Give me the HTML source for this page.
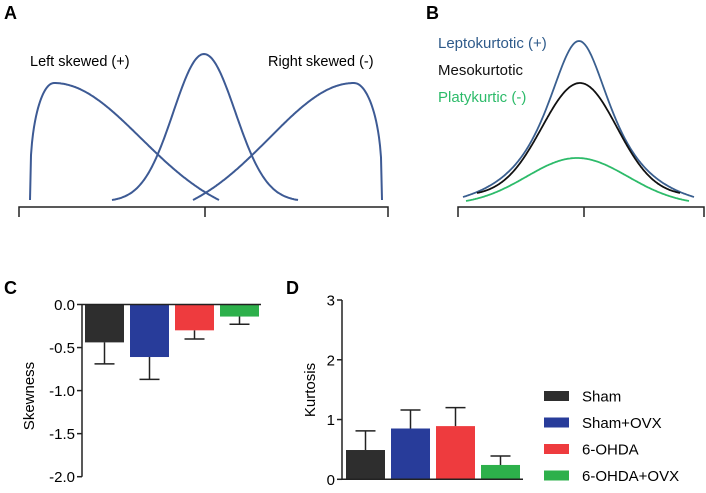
<!DOCTYPE html>
<html><head><meta charset="utf-8">
<style>
html,body{margin:0;padding:0;background:#fff;}
svg{display:block;font-family:"Liberation Sans",Arial,sans-serif;}
</style></head>
<body>
<svg id="fig" width="706" height="493" viewBox="0 0 706 493">
<g id="pa">
<text x="4" y="19" font-size="18" font-weight="bold">A</text>
<text x="30" y="66" font-size="14.5">Left skewed (+)</text>
<text x="268" y="66" font-size="14.5">Right skewed (-)</text>
<path d="M19,217 V207 H388 V217 M205,207 V217" fill="none" stroke="#222" stroke-width="1.5"/>
</g>
<g id="pb">
<text x="426" y="19" font-size="18" font-weight="bold">B</text>
<text x="438" y="48" font-size="15" fill="#2e5a8a">Leptokurtotic (+)</text>
<text x="438" y="75" font-size="15" fill="#111">Mesokurtotic</text>
<text x="438" y="102" font-size="15" fill="#2dbb6a">Platykurtic (-)</text>
<path d="M458,217 V207 H704 V217 M584,207 V217" fill="none" stroke="#222" stroke-width="1.5"/>
</g>
<g id="pc">
<text x="4" y="294" font-size="18" font-weight="bold">C</text>
<text transform="translate(34,396) rotate(-90)" text-anchor="middle" font-size="15">Skewness</text>
</g>
<g id="pd">
<text x="286" y="294" font-size="18" font-weight="bold">D</text>
<text transform="translate(315,390) rotate(-90)" text-anchor="middle" font-size="15">Kurtosis</text>
</g>
<g id="legend"></g>
</svg>
<script>
const groups = ["Sham","Sham+OVX","6-OHDA","6-OHDA+OVX"];
const colors = ["#2e2e2e","#283c9a","#ee3b3e","#2db04b"];
const skewMean = [-0.44,-0.61,-0.30,-0.14];
const skewErr = [0.25,0.26,0.10,0.09];
const kurtMean = [0.49,0.85,0.89,0.24];
const kurtErr = [0.32,0.31,0.31,0.15];
const skewTicks = [0.0,-0.5,-1.0,-1.5,-2.0];
const skewTickLabels = ["0.0","-0.5","-1.0","-1.5","-2.0"];
const kurtTicks = [0,1,2,3];
const kurtTickLabels = ["0","1","2","3"];
// illustrative curves: [start x, peak x, end x, end y, peak y]
const skewCurves = [[30,54,219,200,83],[112,204,298,200,54],[193,354,382,200,83]];
const kurtCurves = [[463,579,694,197,41],[477,580,680,193,83],[466,577,689,201,158]];
const kurtColors = ["#3a5f8f","#111","#2dbb6a"];

const NS="http://www.w3.org/2000/svg";
function mk(tag,attrs,parent){const e=document.createElementNS(NS,tag);for(const k in attrs)e.setAttribute(k,attrs[k]);parent.appendChild(e);return e;}

function barPanel(g,means,errs,ticks,labels,ax,y0px,y1px,v0,v1,barX,barW,axEnd,name){
  const sy=v=>y0px+(v-v0)*(y1px-y0px)/(v1-v0);
  const axis=mk('path',{d:`M${ax},${sy(Math.max(...ticks))} V${sy(Math.min(...ticks))}`,stroke:'#222','stroke-width':1.5,fill:'none'},g);
  
  
  ticks.forEach((t,i)=>{
    const tk=mk('line',{x1:ax-5,x2:ax,y1:sy(t),y2:sy(t),stroke:'#222','stroke-width':1.5},g);
    
    
    const tl=mk('text',{x:ax-7,y:sy(t)+5.5,'text-anchor':'end','font-size':15},g);
    tl.textContent=labels[i];
    
    
  });
  means.forEach((m,i)=>{
    const x=barX(i),zero=sy(0),ym=sy(m),ye=sy(m+Math.sign(m)*errs[i]);
    const b=mk('rect',{x:x,y:Math.min(zero,ym),width:barW,height:Math.abs(ym-zero),fill:colors[i]},g);
    
    
    const cx=x+barW/2;
    const e=mk('path',{d:`M${cx},${ym} V${ye} M${cx-10},${ye} H${cx+10}`,stroke:'#222','stroke-width':1.5,fill:'none'},g);
    
    
  });
  const base=mk('line',{x1:ax,x2:axEnd,y1:sy(0),y2:sy(0),stroke:'#222','stroke-width':1.5},g);
  
  
}
barPanel(document.getElementById('pc'),skewMean,skewErr,skewTicks,skewTickLabels,82,304.5,476.7,0,-2,i=>85+i*45,39,261,'skewness');
barPanel(document.getElementById('pd'),kurtMean,kurtErr,kurtTicks,kurtTickLabels,342,479.3,300,0,3,i=>346+i*45,39,523,'kurtosis');

const lg=document.getElementById('legend');
groups.forEach((gname,i)=>{
  const y=396+i*26.5;
  const r=mk('rect',{x:544,y:y-5,width:25,height:10,fill:colors[i]},lg);
  
  
  const t=mk('text',{x:582,y:y+5.5,'font-size':15},lg);
  t.textContent=gname;
  
  
});

function curvePath(c,fl,fr){
  const [xs,xp,xe,ye,yp]=c;let d='';
  for(let x=xs;x<=xe;x+=1){
    let f;
    if(x<=xp){f=fl((x-xs)/(xp-xs||1));}else{f=fr((x-xp)/(xe-xp));}
    const y=ye-(ye-yp)*f;
    d+=(d?'L':'M')+x.toFixed(1)+','+y.toFixed(1);
  }
  return d;
}
const pa=document.getElementById('pa');
const riseSteep=t=>Math.pow(Math.sin(t*Math.PI/2),0.35);
const fallLong=t=>{const v=Math.exp(-Math.pow(t*1.9,2)/2);const e=Math.exp(-1.9*1.9/2);return (v-e)/(1-e);};
const gauss=(s)=>t=>{const v=Math.exp(-Math.pow(t*s,2)/2);const e=Math.exp(-s*s/2);return (v-e)/(1-e);};
const shapes=[[riseSteep,fallLong],[t=>gauss(3)(1-t),gauss(3)],[t=>fallLong(1-t),t=>riseSteep(1-t)]];
skewCurves.forEach((c,i)=>{
  const p=mk('path',{d:curvePath(c,shapes[i][0],shapes[i][1]),fill:'none',stroke:'#3d5a94','stroke-width':2},pa);
  
  
});
const pb=document.getElementById('pb');
const cauchy=(s)=>t=>{const v=1/(1+Math.pow(t*s,2));const e=1/(1+s*s);return (v-e)/(1-e);};
const kshapes=[cauchy(2.8),gauss(2.7),gauss(2.2)];
kurtCurves.forEach((c,i)=>{
  const f=kshapes[i];
  const p=mk('path',{d:curvePath(c,t=>f(1-t),f),fill:'none',stroke:kurtColors[i],'stroke-width':1.8},pb);
  
  
});
</script>
</body></html>
